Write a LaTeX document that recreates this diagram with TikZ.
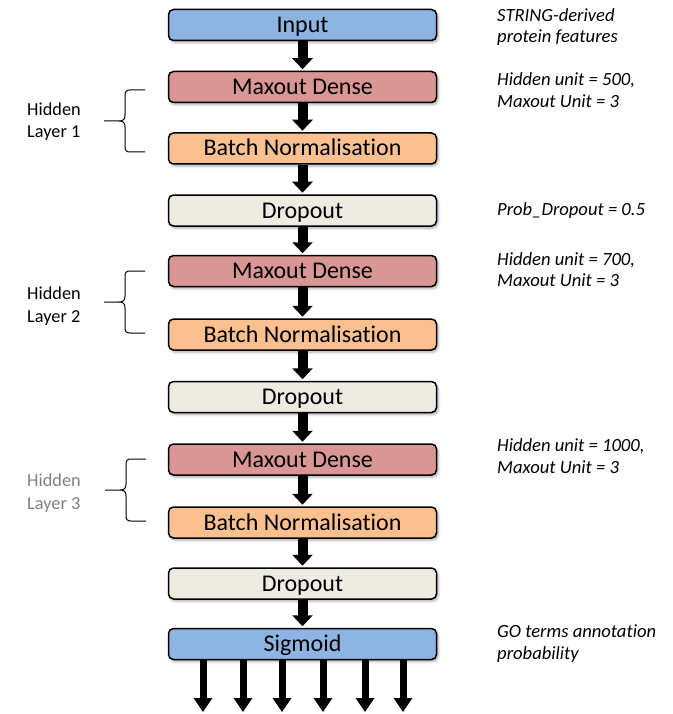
\documentclass[tikz,border=0pt]{standalone}
\usepackage{fontspec}
\setmainfont{Carlito}[Ligatures=NoCommon]
\usetikzlibrary{arrows.meta,shadows.blur}

\definecolor{inblue}{HTML}{8DB4E2}
\definecolor{maxred}{HTML}{D99694}
\definecolor{bnorange}{HTML}{FAC08F}
\definecolor{dropgray}{HTML}{EEECE1}
\definecolor{labelgray}{HTML}{808080}

\tikzset{
  layerbox/.style={draw=black, line width=1.5pt, rounded corners=5pt,
    minimum width=268pt, minimum height=31pt, inner sep=0pt,
    text height=15pt, text depth=0pt,
    font=\fontsize{24}{28}\selectfont,
    blur shadow={shadow xshift=1.5pt, shadow yshift=-2pt,
      shadow blur radius=2.5pt, shadow opacity=35}},
  inbox/.style={layerbox, fill=inblue},
  maxbox/.style={layerbox, fill=maxred},
  bnbox/.style={layerbox, fill=bnorange},
  dropbox/.style={layerbox, fill=dropgray},
  flowarrow/.style={line width=10pt, -{Triangle[width=20pt,length=11pt]},
    shorten >=1.5pt},
  outarrow/.style={line width=7pt, -{Triangle[width=18pt,length=14pt]}},
  % multi-line notes are placed by the baseline of their last line
  note/.style={anchor=base west, inner sep=0pt, align=left,
    font=\fontsize{18.6}{21.5}\selectfont\itshape},
  sidelabel/.style={anchor=base west, inner sep=0pt, align=left,
    font=\fontsize{18.3}{22.5}\selectfont},
  hbrace/.pic={
    \draw[line width=1pt, line join=round]
      (0,0) -- (-15,0) .. controls (-18.5,0) and (-20,1.5) .. (-20,5)
      -- (-20,25) .. controls (-20,29) and (-21.5,31) .. (-26,31) -- (-41,31)
      (-26,31) .. controls (-21.5,31) and (-20,33) .. (-20,37)
      -- (-20,57) .. controls (-20,60.5) and (-18.5,62) .. (-15,62) -- (0,62);
  }
}

\begin{document}
\begin{tikzpicture}[x=1pt, y=-1pt]
  \useasboundingbox (0,0) rectangle (672,714);

  % network layers, top to bottom
  \node[inbox]   (in)  at (302.5,25)    {Input};
  \node[maxbox]  (m1)  at (302.5,87)    {Maxout Dense};
  \node[bnbox]   (b1)  at (302.5,148.5) {Batch Normalisation};
  \node[dropbox] (d1)  at (302.5,210.5) {Dropout};
  \node[maxbox]  (m2)  at (302.5,271)   {Maxout Dense};
  \node[bnbox]   (b2)  at (302.5,334.5) {Batch Normalisation};
  \node[dropbox] (d2)  at (302.5,397)   {Dropout};
  \node[maxbox]  (m3)  at (302.5,459.5) {Maxout Dense};
  \node[bnbox]   (b3)  at (302.5,522.5) {Batch Normalisation};
  \node[dropbox] (d3)  at (302.5,583.5) {Dropout};
  \node[inbox]   (sig) at (302.5,644)   {Sigmoid};

  % flow between layers
  \foreach \a/\b in {in/m1, m1/b1, b1/d1, d1/m2, m2/b2, b2/d2, d2/m3,
                     m3/b3, b3/d3, d3/sig}
    \draw[flowarrow] (\a.south) -- (\b.north);

  % output arrows
  \foreach \i/\x in {1/203, 2/243, 3/282, 4/323, 5/365, 6/403} {
    \coordinate (o\i) at (\x,712);
    \draw[outarrow] (sig.south -| o\i) -- (o\i);
  }

  % braces grouping the hidden layers
  \pic at (145,90)  {hbrace};
  \pic at (145,271) {hbrace};
  \pic at (146,459) {hbrace};

  \node[sidelabel] (h1) at (27,138)   {Hidden\\Layer 1};
  \node[sidelabel] (h2) at (27,322)   {Hidden\\Layer 2};
  \node[sidelabel, text=labelgray] (h3) at (27,509) {Hidden\\Layer 3};

  % parameter notes
  \node[note] (n0) at (497,43)    {STRING-derived\\protein features};
  \node[note] (n1) at (497,107.5) {Hidden unit = 500,\\Maxout Unit = 3};
  \node[note] (n2) at (497,215)   {Prob\_Dropout = 0.5};
  \node[note] (n3) at (497,286.5) {Hidden unit = 700,\\Maxout Unit = 3};
  \node[note] (n4) at (497,473)   {Hidden unit = 1000,\\Maxout Unit = 3};
  \node[note] (n5) at (497,659)   {GO terms annotation\\probability};
\end{tikzpicture}
\end{document}
